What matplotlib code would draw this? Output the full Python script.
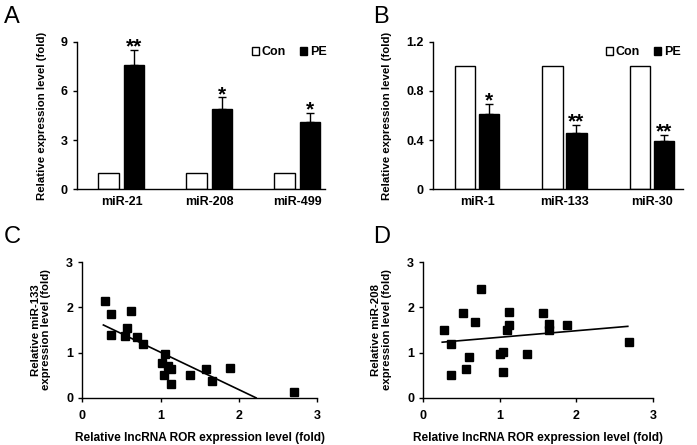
import matplotlib.pyplot as plt
import numpy as np

plt.rcParams['font.family'] = ['Liberation Sans', 'DejaVu Sans']
plt.rcParams['font.weight'] = 'bold'
plt.rcParams['axes.labelweight'] = 'bold'

# panel A
a_genes = ['miR-21', 'miR-208', 'miR-499']
a_con = [1.0, 1.0, 1.0]
a_pe = [7.6, 4.9, 4.1]
a_pe_err = [0.9, 0.7, 0.55]
a_stars = ['**', '*', '*']

# panel B
b_genes = ['miR-1', 'miR-133', 'miR-30']
b_con = [1.0, 1.0, 1.0]
b_pe = [0.61, 0.46, 0.39]
b_pe_err = [0.08, 0.06, 0.05]
b_stars = ['*', '**', '**']

# panel C: lncRNA ROR vs miR-133
c_x = [0.29, 0.37, 0.37, 0.62, 0.57, 0.54, 0.70, 0.78, 1.06, 1.02,
       1.10, 1.13, 1.05, 1.13, 1.38, 1.58, 1.89, 1.66, 2.70]
c_y = [2.15, 1.85, 1.38, 1.93, 1.55, 1.37, 1.34, 1.18, 0.97, 0.77,
       0.71, 0.63, 0.51, 0.31, 0.50, 0.64, 0.66, 0.37, 0.13]
c_line_x = [0.27, 2.22]
c_line_y = [1.61, 0.0]

# panel D: lncRNA ROR vs miR-208
d_x = [0.27, 0.36, 0.36, 0.52, 0.68, 0.76, 0.60, 0.56, 1.00, 1.04,
       1.04, 1.09, 1.12, 1.12, 1.36, 1.57, 1.64, 1.64, 1.88, 2.68]
d_y = [1.49, 1.19, 0.50, 1.88, 1.68, 2.40, 0.90, 0.63, 0.96, 1.01,
       0.56, 1.49, 1.90, 1.62, 0.96, 1.88, 1.63, 1.49, 1.60, 1.24]
d_line_x = [0.25, 2.67]
d_line_y = [1.23, 1.58]

fig = plt.figure(figsize=(6.97, 4.45), dpi=100)


def style(ax):
    ax.spines['top'].set_visible(False)
    ax.spines['right'].set_visible(False)
    ax.tick_params(direction='out', length=3, width=1, labelsize=9)
    for s in ['left', 'bottom']:
        ax.spines[s].set_linewidth(1)


def bars(ax, genes, con, pe, err, stars, off, w, ylim, yt, star_pad, xmax, leg_x):
    x = np.arange(len(genes))
    ax.bar(x - off, con, w, color='white', edgecolor='black', linewidth=1, label='Con')
    ax.bar(x + off, pe, w, color='black', edgecolor='black', linewidth=1, label='PE')
    ax.errorbar(x + off, pe, yerr=[np.zeros(len(pe)), err], fmt='none',
                ecolor='black', elinewidth=1, capsize=3, capthick=1)
    for xi, p, e, s in zip(x + off, pe, err, stars):
        ax.text(xi, p + e + star_pad, s, ha='center', va='bottom', fontsize=15)
    ax.set_xlim(-0.51, xmax)
    ax.set_ylim(*ylim)
    ax.set_yticks(yt)
    ax.set_xticks(x)
    ax.set_xticklabels(genes)
    style(ax)
    ax.tick_params(axis='x', length=0, pad=5)
    ax.set_ylabel('Relative expression level (fold)', fontsize=8.2, labelpad=10)
    ax.legend(loc='upper right', ncol=2, frameon=False, fontsize=9,
              handlelength=0.55, handleheight=0.55, handletextpad=0.25,
              columnspacing=1.1, bbox_to_anchor=(leg_x, 1.045))


ax_a = fig.add_axes([0.110, 0.575, 0.356, 0.331])
bars(ax_a, a_genes, a_con, a_pe, a_pe_err, a_stars, 0.145, 0.234,
     (0, 9), [0, 3, 6, 9], -0.4, 2.316, 1.052)
ax_a.set_yticklabels(['0', '3', '6', '9'])

ax_b = fig.add_axes([0.621, 0.575, 0.359, 0.331])
bars(ax_b, b_genes, b_con, b_pe, b_pe_err, b_stars, 0.1375, 0.23,
     (0, 1.2), [0, 0.4, 0.8, 1.2], -0.05, 2.36, 1.035)
ax_b.set_yticklabels(['0', '0.4', '0.8', '1.2'])


def scatter(ax, x, y, lx, ly, ylab):
    ax.plot(x, y, 's', color='black', markersize=5.4, clip_on=False)
    ax.plot(lx, ly, '-', color='black', linewidth=1.2)
    ax.set_xlim(0, 3)
    ax.set_ylim(0, 3)
    ax.set_xticks([0, 1, 2, 3])
    ax.set_yticks([0, 1, 2, 3])
    style(ax)
    ax.tick_params(axis='x', pad=6)
    ax.set_xlabel('Relative lncRNA ROR expression level (fold)', fontsize=8.6, labelpad=7)
    ax.set_ylabel(ylab, fontsize=8.2, linespacing=1.05, labelpad=11)


ax_c = fig.add_axes([0.118, 0.106, 0.337, 0.305])
scatter(ax_c, c_x, c_y, c_line_x, c_line_y, 'Relative miR-133\nexpression level (fold)')

ax_d = fig.add_axes([0.607, 0.106, 0.330, 0.305])
scatter(ax_d, d_x, d_y, d_line_x, d_line_y, 'Relative miR-208\nexpression level (fold)')

for lab, x, y in [('A', 0.005, 0.962), ('B', 0.535, 0.962), ('C', 0.005, 0.468), ('D', 0.535, 0.468)]:
    fig.text(x, y, lab, fontsize=17, fontweight='normal', va='center', ha='left')

fig.savefig('out.png', dpi=100)
